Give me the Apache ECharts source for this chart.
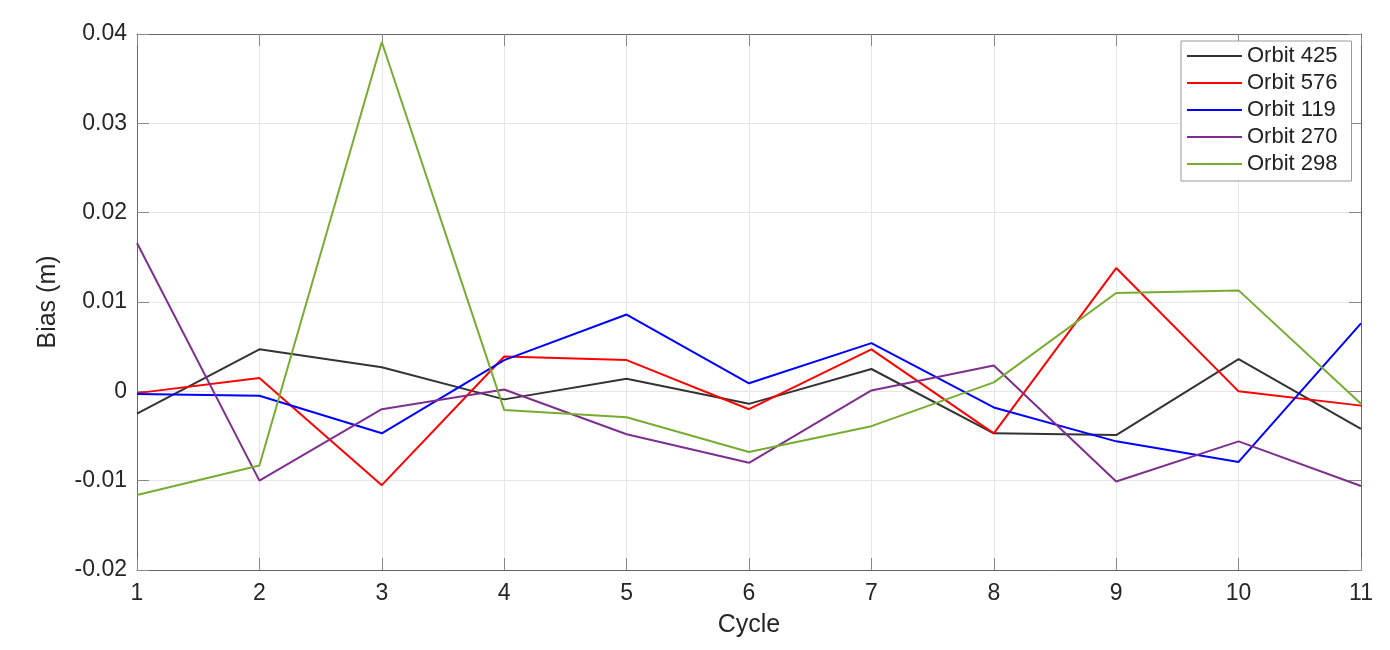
<!DOCTYPE html>
<html><head><meta charset="utf-8">
<script src="https://cdn.jsdelivr.net/npm/echarts@6/dist/echarts.min.js"></script>
<style>html,body{margin:0;padding:0;background:#fff}#c{width:1390px;height:650px}</style>
</head><body><div id="c"></div>
<script>
const cycles = [1,2,3,4,5,6,7,8,9,10,11];
const orbit425 = [-0.0025,0.0047,0.0027,-0.0009,0.0014,-0.0014,0.0025,-0.0047,-0.0049,0.0036,-0.0042];
const orbit576 = [-0.0002,0.0015,-0.0105,0.0039,0.0035,-0.0020,0.0047,-0.0047,0.0138,0.0000,-0.0016];
const orbit119 = [-0.0003,-0.0005,-0.0047,0.0035,0.0086,0.0009,0.0054,-0.0018,-0.0056,-0.0079,0.0076];
const orbit270 = [0.0166,-0.0100,-0.0020,0.0002,-0.0048,-0.0080,0.0001,0.0029,-0.0101,-0.0056,-0.0106];
const orbit298 = [-0.0116,-0.0083,0.0391,-0.0021,-0.0029,-0.0068,-0.0039,0.0010,0.0110,0.0113,-0.0014];
const seriesNames = ['Orbit 425','Orbit 576','Orbit 119','Orbit 270','Orbit 298'];
const seriesColors = ['#333333','#ff0000','#0000ff','#7e2f8e','#77ac30'];
const yTicks = [-0.02,-0.01,0,0.01,0.02,0.03,0.04];

const allData = [orbit425, orbit576, orbit119, orbit270, orbit298];
const font = 'Liberation Sans, Arial, Helvetica, sans-serif';
const chart = echarts.init(document.getElementById('c'), null, {renderer:'canvas'});
const axisLineColor = '#666';
const tickColor = '#888';
chart.setOption({
  animation:false,
  backgroundColor:'#fff',
  grid:{left:137,right:29,top:34,bottom:80,show:false},
  legend:{
    orient:'vertical', left:1181, top:41,
    data:seriesNames,
    icon:'rect', itemWidth:55, itemHeight:2, itemGap:5,
    padding:[4,14,6,6],
    borderColor:'#999', borderWidth:1, backgroundColor:'#fff',
    textStyle:{fontFamily:font,fontSize:22,color:'#222',lineHeight:22}
  },
  xAxis:[{
    type:'value', min:1, max:11, interval:1,
    name:'Cycle', nameLocation:'middle', nameGap:43,
    nameTextStyle:{fontFamily:font,fontSize:25,color:'#262626'},
    axisLine:{show:true,onZero:false,lineStyle:{color:axisLineColor,width:1}},
    axisTick:{show:true,inside:true,length:12,lineStyle:{color:tickColor}},
    axisLabel:{fontFamily:font,fontSize:23,color:'#262626',margin:12},
    splitLine:{show:true,lineStyle:{color:'#e6e6e6',width:1}}
  },{
    type:'value', min:1, max:11, interval:1, position:'top',
    axisLine:{show:true,onZero:false,lineStyle:{color:axisLineColor,width:1}},
    axisTick:{show:true,inside:true,length:12,lineStyle:{color:tickColor}},
    axisLabel:{show:false}, splitLine:{show:false}
  }],
  yAxis:[{
    type:'value', min:yTicks[0], max:yTicks[yTicks.length-1], interval:0.01,
    name:'Bias (m)', nameLocation:'middle', nameGap:76, nameRotate:90,
    nameTextStyle:{fontFamily:font,fontSize:25,color:'#262626'},
    axisLine:{show:true,onZero:false,lineStyle:{color:axisLineColor,width:1}},
    axisTick:{show:true,inside:true,length:12,lineStyle:{color:tickColor}},
    axisLabel:{fontFamily:font,fontSize:23,color:'#262626',margin:10,
      formatter:v=>{const r=Math.round(v*100)/100; return r===0?'0':r.toFixed(2);}},
    splitLine:{show:true,lineStyle:{color:'#e6e6e6',width:1}}
  },{
    type:'value', min:yTicks[0], max:yTicks[yTicks.length-1], interval:0.01, position:'right',
    axisLine:{show:true,onZero:false,lineStyle:{color:axisLineColor,width:1}},
    axisTick:{show:true,inside:true,length:12,lineStyle:{color:tickColor}},
    axisLabel:{show:false}, splitLine:{show:false}
  }],
  series: allData.map((d,i)=>({
    name:seriesNames[i], type:'line',
    data:cycles.map((c,j)=>[c,d[j]]),
    symbol:'none', lineStyle:{color:seriesColors[i],width:2},
    itemStyle:{color:seriesColors[i]}, z:2+i
  }))
});
</script></body></html>
